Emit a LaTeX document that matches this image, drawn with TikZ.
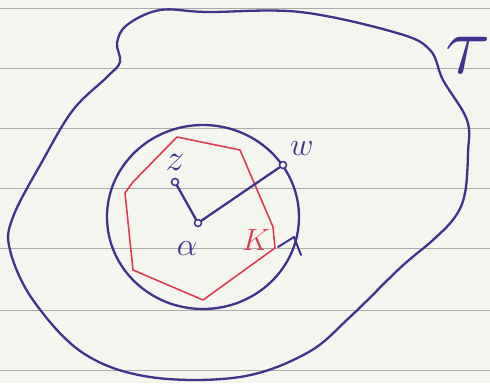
\documentclass[tikz,border=0pt]{standalone}
\usetikzlibrary{shapes.geometric}
\definecolor{pen}{RGB}{62,52,138}
\definecolor{redpen}{RGB}{218,62,82}
\definecolor{paper}{RGB}{244,245,238}
\definecolor{rule}{RGB}{170,172,170}
\tikzset{
  ink/.style={draw=pen,line width=2.3pt,line cap=round,line join=round},
  redink/.style={draw=redpen,line width=1.6pt,line join=round},
  dot/.style={circle,draw=pen,fill=paper,line width=1.5pt,inner sep=0pt,minimum size=7pt},
  lbl/.style={text=pen,inner sep=0pt,font=\Huge,scale=1.3},
  paperline/.style={draw=rule,line width=0.8pt}
}
\begin{document}
\begin{tikzpicture}[x=1pt,y=-1pt]
\useasboundingbox (0,0) rectangle (490,383);
\fill[paper] (0,0) rectangle (490,383);
\foreach \yy in {8,68,128,188,248,310,370}{
  \draw[paperline] (0,\yy) -- (490,\yy);
}
% outer region
\draw[ink] plot[smooth cycle,tension=0.6] coordinates {
  (160,10) (207,12) (300,12) (397,33) (430,50) (443,80) (467,120)
  (468,153) (465,193) (455,217) (433,240) (400,268) (350,317)
  (307,353) (240,377) (150,377) (83,353) (33,300) (10,250)
  (13,217) (43,160) (73,110) (107,77) (120,62) (117,43) (127,25)};
% disc
\draw[ink] (203,217) ellipse [x radius=96pt, y radius=92pt];
% red polygon K
\draw[redink] (177,137) -- (240,150) -- (273,227) -- (275,248) -- (203,300)
  -- (133,270) -- (125,193) -- (133,182) -- cycle;
% arrowhead on circle
\coordinate (tip) at (294,237);
\coordinate (barbL) at (278,247);
\coordinate (barbR) at (301,255);
\draw[ink,line width=2pt] (barbL) -- (tip) -- (barbR);
% points
\node[dot] (a) at (198,223) {};
\node[dot] (z) at (175,182) {};
\node[dot] (w) at (283,165) {};
\draw[ink] (z) -- (a);
\draw[ink] (a) -- (w);
% labels
\node[lbl,scale=1.15] (zl) at (175,162) {$z$};
\node[lbl] (wl) at (302,149) {$w$};
\node[lbl] (al) at (187,249) {$\alpha$};
\node[lbl,text=redpen,scale=0.95] (kl) at (256,240) {$K$};
\node[lbl,scale=2.6] (tau) at (468,55) {$\tau$};
\end{tikzpicture}
\end{document}
